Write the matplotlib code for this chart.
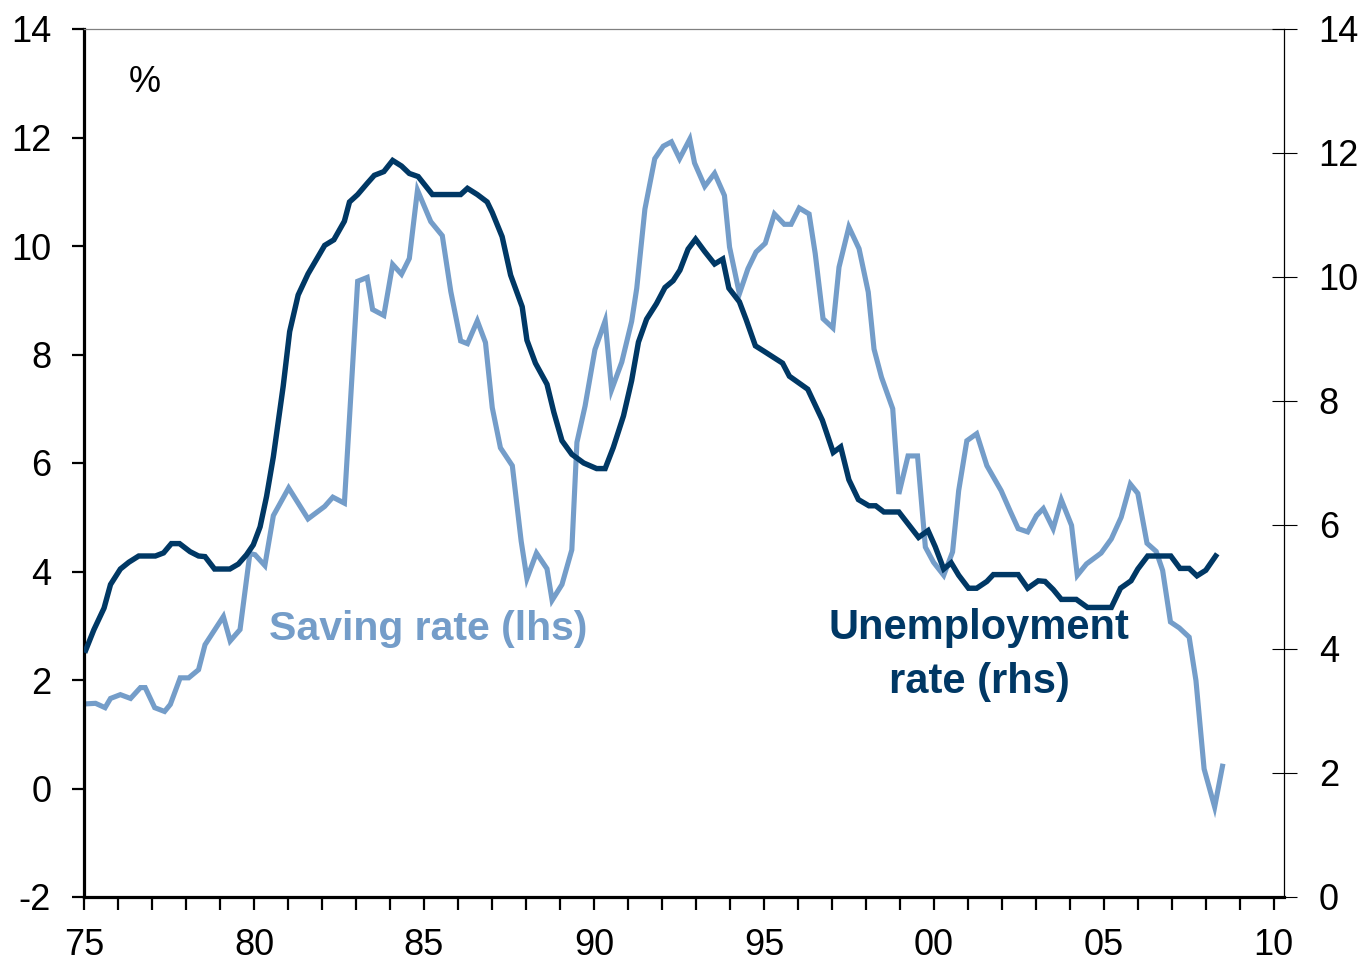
import numpy as np
import matplotlib
matplotlib.use('Agg')
import matplotlib.pyplot as plt
from matplotlib.ticker import MultipleLocator, FixedLocator

plt.rcParams['font.family'] = ['Liberation Sans', 'DejaVu Sans']
plt.rcParams['axes.unicode_minus'] = False

# household saving rate, % (lhs)
saving_dates = [1975.05, 1975.34, 1975.62, 1975.78, 1976.07, 1976.37, 1976.66, 1976.80,
                1977.08, 1977.37, 1977.54, 1977.83, 1978.08, 1978.37, 1978.56, 1978.86,
                1979.10, 1979.30, 1979.59, 1979.88, 1980.03, 1980.32, 1980.57, 1981.02,
                1981.59, 1982.08, 1982.32, 1982.66, 1983.05, 1983.33, 1983.49, 1983.82,
                1984.08, 1984.34, 1984.57, 1984.81, 1985.20, 1985.54, 1985.79, 1986.08,
                1986.28, 1986.57, 1986.81, 1987.01, 1987.25, 1987.60, 1987.86, 1988.03,
                1988.31, 1988.62, 1988.77, 1989.06, 1989.35, 1989.50, 1989.74, 1990.03,
                1990.33, 1990.52, 1990.82, 1991.11, 1991.26, 1991.50, 1991.79, 1992.04,
                1992.28, 1992.52, 1992.82, 1992.96, 1993.26, 1993.55, 1993.84, 1993.99,
                1994.28, 1994.53, 1994.77, 1995.04, 1995.31, 1995.60, 1995.80, 1996.04,
                1996.33, 1996.51, 1996.74, 1997.03, 1997.21, 1997.50, 1997.80, 1998.07,
                1998.24, 1998.46, 1998.79, 1998.97, 1999.24, 1999.52, 1999.75, 1999.99,
                2000.29, 2000.55, 2000.73, 2000.97, 2001.26, 2001.56, 2001.98, 2002.24,
                2002.48, 2002.76, 2003.02, 2003.22, 2003.51, 2003.75, 2004.05, 2004.22,
                2004.49, 2004.92, 2005.22, 2005.51, 2005.78, 2006.00, 2006.27, 2006.54,
                2006.73, 2006.96, 2007.22, 2007.51, 2007.71, 2007.95, 2008.26, 2008.49]
saving_rate = [1.56, 1.57, 1.49, 1.66, 1.73, 1.66, 1.86, 1.86,
               1.49, 1.42, 1.55, 2.04, 2.04, 2.19, 2.65, 2.94,
               3.17, 2.72, 2.93, 4.33, 4.31, 4.11, 5.03, 5.54,
               4.97, 5.20, 5.37, 5.26, 9.35, 9.42, 8.83, 8.72,
               9.66, 9.48, 9.77, 11.03, 10.45, 10.19, 9.16, 8.25,
               8.20, 8.62, 8.22, 7.02, 6.28, 5.95, 4.56, 3.87,
               4.34, 4.05, 3.47, 3.76, 4.40, 6.38, 7.05, 8.09,
               8.62, 7.35, 7.86, 8.61, 9.22, 10.68, 11.61, 11.84,
               11.92, 11.61, 11.97, 11.53, 11.10, 11.34, 10.93, 9.98,
               9.12, 9.58, 9.89, 10.05, 10.59, 10.40, 10.40, 10.70,
               10.59, 9.86, 8.66, 8.49, 9.61, 10.35, 9.95, 9.15,
               8.10, 7.58, 7.00, 5.43, 6.13, 6.13, 4.45, 4.17,
               3.93, 4.36, 5.49, 6.41, 6.54, 5.95, 5.49, 5.12,
               4.79, 4.73, 5.03, 5.16, 4.79, 5.32, 4.85, 3.93,
               4.14, 4.34, 4.60, 5.00, 5.61, 5.44, 4.52, 4.37,
               4.02, 3.07, 2.96, 2.79, 1.99, 0.36, -0.34, 0.41]

# unemployment rate, % (rhs)
unemp_dates = [1975.05, 1975.29, 1975.59, 1975.78, 1976.07, 1976.32, 1976.61, 1977.10,
               1977.34, 1977.57, 1977.81, 1978.12, 1978.37, 1978.56, 1978.84, 1979.29,
               1979.54, 1979.78, 1979.98, 1980.18, 1980.37, 1980.57, 1980.86, 1981.05,
               1981.30, 1981.59, 1982.08, 1982.35, 1982.66, 1982.81, 1983.05, 1983.33,
               1983.54, 1983.82, 1984.08, 1984.34, 1984.57, 1984.83, 1985.25, 1986.08,
               1986.28, 1986.57, 1986.86, 1987.01, 1987.30, 1987.55, 1987.89, 1988.03,
               1988.28, 1988.62, 1988.82, 1989.06, 1989.35, 1989.70, 1990.08, 1990.33,
               1990.57, 1990.87, 1991.11, 1991.31, 1991.55, 1991.84, 1992.09, 1992.33,
               1992.53, 1992.77, 1992.99, 1993.26, 1993.55, 1993.79, 1993.97, 1994.28,
               1994.48, 1994.75, 1995.01, 1995.55, 1995.75, 1996.29, 1996.72, 1997.04,
               1997.26, 1997.50, 1997.78, 1998.09, 1998.29, 1998.53, 1998.97, 1999.55,
               1999.83, 2000.04, 2000.29, 2000.51, 2000.73, 2001.02, 2001.26, 2001.56,
               2001.75, 2002.48, 2002.76, 2003.07, 2003.27, 2003.51, 2003.75, 2004.19,
               2004.52, 2005.22, 2005.49, 2005.80, 2006.00, 2006.29, 2006.97, 2007.24,
               2007.51, 2007.74, 2008.00, 2008.29]
unemp_rate = [3.98, 4.31, 4.66, 5.04, 5.29, 5.40, 5.50, 5.50,
              5.55, 5.70, 5.70, 5.57, 5.50, 5.49, 5.29, 5.29,
              5.37, 5.52, 5.68, 5.97, 6.46, 7.10, 8.24, 9.12,
              9.71, 10.05, 10.51, 10.60, 10.90, 11.21, 11.33, 11.51,
              11.64, 11.70, 11.88, 11.79, 11.67, 11.62, 11.33, 11.33,
              11.43, 11.33, 11.21, 11.04, 10.65, 10.03, 9.52, 8.98,
              8.61, 8.27, 7.82, 7.36, 7.14, 7.00, 6.91, 6.91,
              7.25, 7.76, 8.33, 8.95, 9.32, 9.57, 9.83, 9.94,
              10.11, 10.45, 10.61, 10.41, 10.21, 10.29, 9.82, 9.60,
              9.31, 8.89, 8.80, 8.61, 8.40, 8.19, 7.69, 7.17,
              7.26, 6.73, 6.41, 6.31, 6.31, 6.21, 6.21, 5.80,
              5.91, 5.65, 5.29, 5.39, 5.19, 4.98, 4.98, 5.09,
              5.20, 5.20, 4.98, 5.10, 5.09, 4.96, 4.80, 4.80,
              4.67, 4.67, 4.98, 5.10, 5.29, 5.50, 5.50, 5.30,
              5.30, 5.18, 5.27, 5.50]

year_ticks = [1975, 1980, 1985, 1990, 1995, 2000, 2005, 2010]
year_labels = ['75', '80', '85', '90', '95', '00', '05', '10']

light = '#749dc9'
dark = '#003865'

fig = plt.figure(figsize=(13.63, 9.61), dpi=100)
ax = fig.add_axes([84 / 1363, 1 - 897 / 961, 1200 / 1363, 868 / 961])
ax2 = ax.twinx()

ax.plot(saving_dates, saving_rate, color=light, lw=3.7, solid_joinstyle='miter')
ax2.plot(unemp_dates, unemp_rate, color=dark, lw=3.9, solid_joinstyle='miter')

ax.set_xlim(1975, 2010.3)
ax.set_ylim(-2, 14)
ax2.set_ylim(0, 14)

ax.xaxis.set_major_locator(FixedLocator(year_ticks))
ax.set_xticklabels(year_labels)
ax.xaxis.set_minor_locator(MultipleLocator(1))
ax.yaxis.set_major_locator(MultipleLocator(2))
ax2.yaxis.set_major_locator(MultipleLocator(2))

ax.tick_params(axis='x', which='both', direction='out', length=9.5, width=1.6,
               pad=13, labelsize=26)
ax.tick_params(axis='y', direction='out', length=8.6, width=1.6, pad=15, labelsize=26)
ax2.tick_params(axis='y', direction='inout', length=18, width=0.8, pad=16,
                labelsize=26)

for s in ['left', 'bottom']:
    ax.spines[s].set_linewidth(2.3)
    ax.spines[s].set_color('black')
ax.spines['right'].set_visible(False)
ax.spines['top'].set_color('#808080')
ax.spines['top'].set_linewidth(0.9)
for s in ['left', 'bottom', 'top']:
    ax2.spines[s].set_visible(False)
ax2.spines['right'].set_linewidth(0.9)

fig.text(145 / 1363, 1 - 82 / 961, '%', fontsize=26, ha='center', va='center')
fig.text(428 / 1363, 1 - 629 / 961, 'Saving rate (lhs)', fontsize=29.5,
         fontweight='bold', color=light, ha='center', va='center')
fig.text(979 / 1363, 1 - 655 / 961, 'Unemployment\nrate (rhs)', fontsize=30,
         fontweight='bold', color=dark, ha='center', va='center',
         linespacing=1.45)

fig.savefig('out.png', dpi=100)
